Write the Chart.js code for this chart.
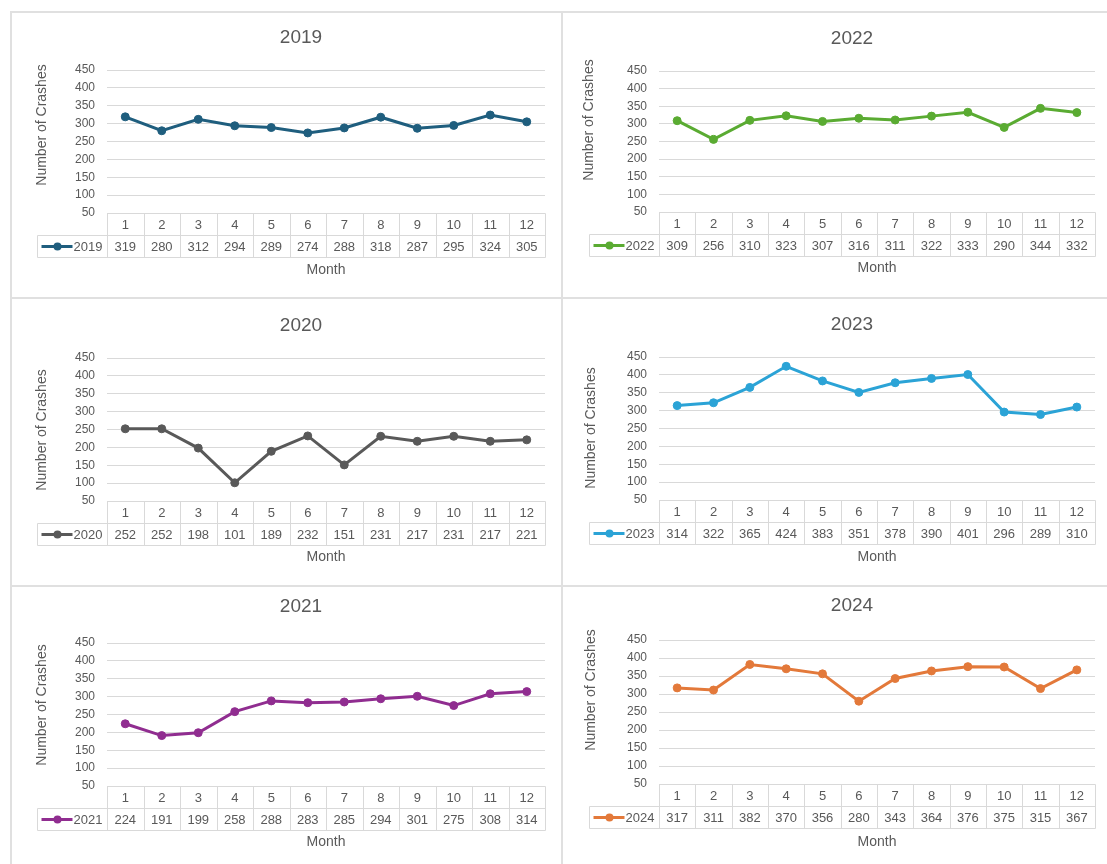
<!DOCTYPE html>
<html><head><meta charset="utf-8">
<script src="https://cdn.jsdelivr.net/npm/chart.js@4.4.1/dist/chart.umd.min.js"></script>
<style>
html,body{margin:0;padding:0;background:#fff;width:1107px;height:864px;overflow:hidden;position:relative}
.ln{position:absolute;background:#e0e0e0}
canvas{position:absolute}
</style></head><body>
<div class="ln" style="left:10px;top:11px;width:1097px;height:2px"></div>
<div class="ln" style="left:10px;top:11px;width:2px;height:853px"></div>
<div class="ln" style="left:561px;top:11px;width:2px;height:853px"></div>
<div class="ln" style="left:10px;top:297px;width:1097px;height:2px"></div>
<div class="ln" style="left:10px;top:585px;width:1097px;height:2px"></div>
<canvas id="c0"></canvas><canvas id="c1"></canvas><canvas id="c2"></canvas>
<canvas id="c3"></canvas><canvas id="c4"></canvas><canvas id="c5"></canvas>
<script>
// ---- data ----
const months = ['1','2','3','4','5','6','7','8','9','10','11','12'];
const yTickMin = 50;
const yTickMax = 450;
const yTickStep = 50;
const v2019 = [319,280,312,294,289,274,288,318,287,295,324,305];
const v2022 = [309,256,310,323,307,316,311,322,333,290,344,332];
const v2020 = [252,252,198,101,189,232,151,231,217,231,217,221];
const v2023 = [314,322,365,424,383,351,378,390,401,296,289,310];
const v2021 = [224,191,199,258,288,283,285,294,301,275,308,314];
const v2024 = [317,311,382,370,356,280,343,364,376,375,315,367];
const yAxisTitle = 'Number of Crashes';
const xAxisTitle = 'Month';

// ---- layout (panel box, plot area, text anchors) ----
const panels = [
 {year:'2019', data:v2019, color:'#1f5e7e', box:[12,13,549,284], plot:[107,70,545,213], titleY:38, monthY:270, yT:[42,125]},
 {year:'2022', data:v2022, color:'#5aab32', box:[563,13,544,284], plot:[659,71,1095,212], titleY:39, monthY:268, yT:[589,120]},
 {year:'2020', data:v2020, color:'#595959', box:[12,299,549,286], plot:[107,358,545,501], titleY:326, monthY:557, yT:[42,430]},
 {year:'2023', data:v2023, color:'#2ba3d6', box:[563,299,544,286], plot:[659,357,1095,500], titleY:325, monthY:557, yT:[591,428]},
 {year:'2021', data:v2021, color:'#902d90', box:[12,587,549,277], plot:[107,643,545,786], titleY:607, monthY:842, yT:[42,705]},
 {year:'2024', data:v2024, color:'#e3793a', box:[563,587,544,277], plot:[659,640,1095,784], titleY:606, monthY:842, yT:[591,690]}
];

const FONT = "'Liberation Sans', Arial, sans-serif";
const TXT = '#595959';
const GRID = '#d9d9d9';
const Y_AXIS_W = 50;
const TITLE_SIZE = 19, AXT_SIZE = 14, TICK_SIZE = 12, TABLE_SIZE = 13;
const ROW_H = 22, LEG_W = 70;

const extras = {
  id: 'extras',
  afterDraw(chart, args, o) {
    const ctx = chart.ctx, ca = chart.chartArea, xs = chart.scales.x;
    const p = o.p;
    ctx.save();
    // y axis title
    ctx.fillStyle = TXT;
    ctx.font = AXT_SIZE + 'px ' + FONT;
    ctx.textAlign = 'center'; ctx.textBaseline = 'middle';
    ctx.translate(p.yT[0] - p.box[0], p.yT[1] - p.box[1]);
    ctx.rotate(-Math.PI / 2);
    ctx.fillText(yAxisTitle, 0, 0);
    ctx.setTransform(1,0,0,1,0,0);
    // data table
    const top = Math.round(ca.bottom) + 0.5;
    const cw = xs.getPixelForValue(1) - xs.getPixelForValue(0);
    const legL = Math.round(ca.left - LEG_W) + 0.5;
    const R = Math.round(ca.right) + 0.5;
    ctx.strokeStyle = GRID; ctx.lineWidth = 1;
    ctx.beginPath();
    ctx.moveTo(Math.round(ca.left)+0.5, top); ctx.lineTo(R, top);
    ctx.moveTo(legL, top + ROW_H); ctx.lineTo(R, top + ROW_H);
    ctx.moveTo(legL, top + 2*ROW_H); ctx.lineTo(R, top + 2*ROW_H);
    for (let i = 0; i <= months.length; i++) {
      const x = Math.round(xs.getPixelForValue(i) - cw/2) + 0.5;
      ctx.moveTo(x, top); ctx.lineTo(x, top + 2*ROW_H);
    }
    ctx.moveTo(legL, top + ROW_H); ctx.lineTo(legL, top + 2*ROW_H);
    ctx.stroke();
    ctx.fillStyle = TXT;
    ctx.font = TABLE_SIZE + 'px ' + FONT;
    ctx.textAlign = 'center'; ctx.textBaseline = 'middle';
    const ds = chart.data.datasets[0];
    chart.data.labels.forEach((lab, i) => {
      const x = xs.getPixelForValue(i);
      ctx.fillText(lab, x, top + ROW_H/2 + 1);
      ctx.fillText(String(ds.data[i]), x, top + 1.5*ROW_H + 1);
    });
    // legend key
    const ly = top + 1.5*ROW_H;
    ctx.strokeStyle = ds.borderColor; ctx.lineWidth = 3;
    ctx.beginPath(); ctx.moveTo(legL + 4, ly); ctx.lineTo(legL + 35, ly); ctx.stroke();
    ctx.fillStyle = ds.borderColor;
    ctx.beginPath(); ctx.arc(legL + 20, ly, 4, 0, Math.PI*2); ctx.fill();
    ctx.fillStyle = TXT; ctx.textAlign = 'left';
    ctx.fillText(ds.label, legL + 36, ly + 1);
    ctx.restore();
  }
};

panels.forEach((p, idx) => {
  const [bx, by, bw, bh] = p.box;
  const cv = document.getElementById('c' + idx);
  cv.width = bw; cv.height = bh;
  cv.style.left = bx + 'px'; cv.style.top = by + 'px';
  cv.style.width = bw + 'px'; cv.style.height = bh + 'px';
  const plotL = p.plot[0] - bx, plotT = p.plot[1] - by, plotR = p.plot[2] - bx, plotB = p.plot[3] - by;
  const tLH = TITLE_SIZE * 1.2;
  const tTop = (p.titleY - by) - tLH/2;
  const tBot = plotT - tTop - tLH;
  const monthL = p.monthY - by;
  const xAxisH = monthL + 10 - plotB;
  const mLH = AXT_SIZE * 1.2;
  new Chart(cv, {
    type: 'line',
    data: {
      labels: months,
      datasets: [{
        label: p.year, data: p.data,
        borderColor: p.color, backgroundColor: p.color,
        pointBackgroundColor: p.color, pointBorderColor: p.color,
        borderWidth: 3, pointRadius: 4, pointBorderWidth: 1, pointHoverRadius: 4, tension: 0
      }]
    },
    options: {
      responsive: false, animation: false, devicePixelRatio: 1,
      layout: { padding: { left: plotL - Y_AXIS_W, right: bw - plotR, top: 0, bottom: bh - (monthL + 10) } },
      plugins: {
        legend: { display: false },
        tooltip: { enabled: false },
        title: { display: true, text: p.year, color: TXT,
                 font: { family: FONT, size: TITLE_SIZE, weight: 'normal', lineHeight: 1.2 },
                 padding: { top: tTop, bottom: tBot } },
        extras: { p: p }
      },
      scales: {
        x: {
          type: 'category', offset: true,
          grid: { display: false, drawTicks: false },
          border: { display: false },
          ticks: { display: false },
          title: { display: true, text: xAxisTitle, color: TXT,
                   font: { family: FONT, size: AXT_SIZE, lineHeight: 1.2 },
                   padding: { top: 0, bottom: (10 - mLH/2) } },
          afterFit: s => { s.height = xAxisH; }
        },
        y: {
          min: yTickMin, max: yTickMax,
          grid: { color: GRID, drawTicks: false, lineWidth: 1 },
          border: { display: false },
          ticks: { stepSize: yTickStep, color: TXT, padding: 12,
                   font: { family: FONT, size: TICK_SIZE } },
          afterFit: s => { s.width = Y_AXIS_W; }
        }
      }
    },
    plugins: [extras]
  });
});
</script>
</body></html>
